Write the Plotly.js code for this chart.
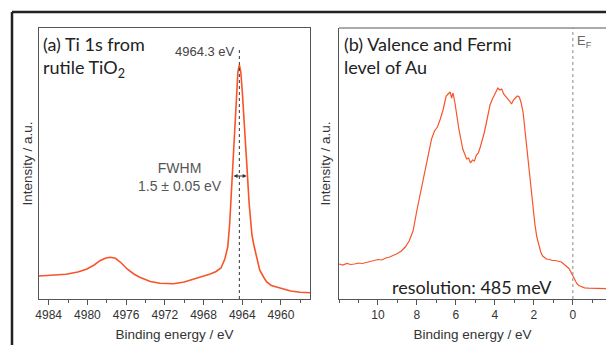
<!DOCTYPE html>
<html><head><meta charset="utf-8">
<script src="https://cdn.plot.ly/plotly-3.0.1.min.js"></script>
<style>html,body{margin:0;padding:0;background:#fff;overflow:hidden}</style>
</head><body>
<div id="chart" style="width:606px;height:345px"></div>
<script>
// Panel (a): Ti 1s from rutile TiO2
const tiEnergy = [4985,4983.5,4982.2,4981,4980.1,4979.3,4978.7,4978.1,4977.6,4977.1,4976.5,4975.9,4975.2,4974.6,4973.5,4972.5,4971.1,4970,4969,4968,4967.3,4966.7,4966.2,4965.8,4965.5,4965.3,4965.1,4964.95,4964.8,4964.6,4964.45,4964.3,4964.15,4964.0,4963.8,4963.5,4963.3,4963.0,4962.8,4962.5,4962.2,4961.8,4961.5,4961.0,4960.1,4959.0,4958.0,4957.0];
const tiIntensity = [23,24,24.7,27,29.7,34,38.3,41,41.7,40.7,36,30,25,21.7,17.5,15.7,15.3,17,19.7,23,25,27.5,31,40,52,75,110,137,170,206,227,234,227,208,172,130,97,64,54,40,29,22,17.3,13.5,10.7,8,6.7,6.3];
// Panel (b): Valence band and Fermi level of Au
const auEnergy = [12.0,11.8,11.6,11.4,11.2,11.0,10.8,10.6,10.4,10.2,10.0,9.8,9.6,9.4,9.2,9.0,8.8,8.6,8.4,8.2,8.0,7.85,7.7,7.55,7.4,7.25,7.1,6.95,6.8,6.65,6.5,6.4,6.3,6.22,6.15,6.05,5.95,5.85,5.75,5.65,5.55,5.45,5.35,5.25,5.15,5.05,4.95,4.85,4.75,4.65,4.55,4.45,4.35,4.25,4.15,4.05,3.95,3.85,3.75,3.65,3.55,3.45,3.35,3.25,3.15,3.05,2.95,2.85,2.75,2.65,2.55,2.45,2.35,2.25,2.15,2.05,1.95,1.85,1.75,1.65,1.55,1.45,1.35,1.2,1.05,0.9,0.75,0.6,0.5,0.4,0.3,0.2,0.1,0.0,-0.1,-0.2,-0.3,-0.45,-0.6,-0.8,-1.0,-1.2,-1.4,-1.7];
const auIntensity = [35,34,35.5,34.5,35,36,35.5,36.5,37,38,39.5,39,41,42,43.5,45.5,48,52,58,68,89,103,118,132,148,160,168,172,180,190,203,205,207,201,206,196,182,170,160,150,145,140,141,136,139,138,144,146,152,158,166,175,186,194,199,203,207,211,209,210,205,203,200,198,195,199,201,203,202,196,186,168,146,126,108,90,75,62,53,47,43,41,40,39.5,38.5,38.5,37.5,37,35.5,34,32.5,30.5,27,23,19,15.5,13.5,12,11.2,10.8,10.6,10.5,10.4,10.3];
const tiPeak = 4964.3;
const fermi = 0;
const tiTicks = [4984,4980,4976,4972,4968,4964,4960];
const auTicks = [10,8,6,4,2,0];

const lineColor = '#f7542a';
const axisColor = '#555';
const tickFont = {family:'Liberation Sans, Arial', size:12, color:'#333'};
const titleFont = {family:'Liberation Sans, Arial', size:13.5, color:'#333'};
const labelFont = {family:'Lato, Open Sans', size:18, color:'#222'};

const traces = [
  {x:tiEnergy, y:tiIntensity, xaxis:'x', yaxis:'y', type:'scatter', mode:'lines', line:{color:lineColor, width:1.6}, hoverinfo:'skip'},
  {x:auEnergy, y:auIntensity, xaxis:'x2', yaxis:'y2', type:'scatter', mode:'lines', line:{color:lineColor, width:1.2}, hoverinfo:'skip'}
];

const xCommon = {showline:true, linecolor:axisColor, linewidth:1, ticks:'outside', ticklen:5, tickcolor:axisColor,
  tickfont:tickFont, showgrid:false, zeroline:false, title:{text:'Binding energy / eV', font:titleFont, standoff:8}};
const yCommon = {showline:true, linecolor:axisColor, linewidth:1, showticklabels:false, ticks:'', showgrid:false, zeroline:false, range:[0,271]};

const layout = {
  width:606, height:345, margin:{l:0, r:0, t:28, b:46}, showlegend:false,
  paper_bgcolor:'#fff', plot_bgcolor:'#fff',
  xaxis: Object.assign({}, xCommon, {domain:[39/606, 310/606], range:[4985,4957], tickvals:tiTicks, mirror:true,
     minor:{dtick:2, ticks:'outside', ticklen:3, tickcolor:axisColor}}),
  yaxis: Object.assign({}, yCommon, {anchor:'x', mirror:true}),
  xaxis2: Object.assign({}, xCommon, {domain:[339/606, 1], range:[12,-1.7], tickvals:auTicks, anchor:'y2',
     minor:{dtick:1, ticks:'outside', ticklen:3, tickcolor:axisColor}}),
  yaxis2: Object.assign({}, yCommon, {anchor:'x2'}),
  shapes:[
    {type:'line', xref:'paper', yref:'paper', x0:12/606, x1:1, y0:(299-12)/271, y1:(299-12)/271, line:{color:'#222', width:2.5}},
    {type:'line', xref:'paper', yref:'paper', x0:12/606, x1:12/606, y0:(299-12)/271, y1:-0.2, line:{color:'#222', width:2.5}},
    {type:'line', xref:'x2 domain', yref:'paper', x0:0, x1:1, y0:1, y1:1, line:{color:axisColor, width:1}},
    {type:'line', xref:'x', yref:'y', x0:tiPeak, x1:tiPeak, y0:0, y1:249, line:{color:'#333', width:1, dash:'dot'}},
    {type:'line', xref:'x2', yref:'y2', x0:fermi, x1:fermi, y0:0, y1:271, line:{color:'#888', width:1, dash:'dot'}}
  ],
  annotations:[
    {xref:'x domain', yref:'paper', x:0.008, y:0.99, xanchor:'left', yanchor:'top', align:'left', showarrow:false,
     text:'(a) Ti 1s from<br>rutile TiO<sub>2</sub>', font:labelFont},
    {xref:'x2 domain', yref:'paper', x:0.012, y:0.99, xanchor:'left', yanchor:'top', align:'left', showarrow:false,
     text:'(b) Valence and Fermi<br>level of Au', font:labelFont},
    {xref:'x', yref:'y', x:tiPeak, y:248, xanchor:'right', yanchor:'middle', showarrow:false, xshift:-2,
     text:'4964.3 eV', font:{family:'Liberation Sans, Arial', size:13, color:'#444'}},
    {xref:'x', yref:'y', x:4970.4, y:122, xanchor:'center', yanchor:'middle', showarrow:false, align:'center',
     text:'FWHM<br>1.5 ± 0.05 eV', font:{family:'Liberation Sans, Arial', size:14, color:'#555'}},
    {xref:'x', yref:'y', axref:'x', ayref:'y', x:4963.55, y:123, ax:4965.05, ay:123, showarrow:true,
     arrowside:'end+start', arrowhead:2, arrowsize:0.8, arrowwidth:1, arrowcolor:'#333', text:''},
    {xref:'x2', yref:'paper', x:fermi, y:0.95, xanchor:'left', yanchor:'middle', showarrow:false, xshift:2,
     text:'E<sub>F</sub>', font:{family:'Liberation Sans, Arial', size:13, color:'#666'}},
    {xref:'x2', yref:'y2', x:5.2, y:12, xanchor:'center', yanchor:'middle', showarrow:false,
     text:'resolution: 485 meV', font:labelFont},
    {xref:'paper', yref:'paper', x:27/606, y:0.5, textangle:-90, showarrow:false, xanchor:'center', yanchor:'middle',
     text:'Intensity / a.u.', font:titleFont},
    {xref:'paper', yref:'paper', x:325/606, y:0.5, textangle:-90, showarrow:false, xanchor:'center', yanchor:'middle',
     text:'Intensity / a.u.', font:titleFont}
  ]
};
Plotly.newPlot('chart', traces, layout, {displayModeBar:false, staticPlot:true});
</script>
</body></html>
